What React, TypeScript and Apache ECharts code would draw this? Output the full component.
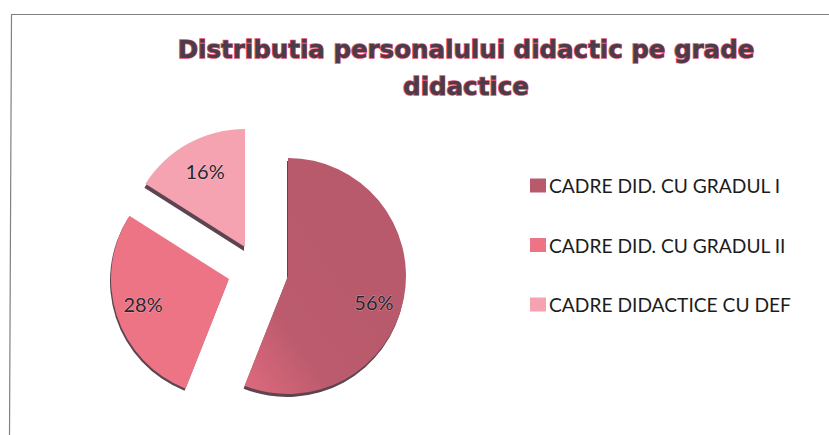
import React, { useEffect, useRef } from "react";
import * as echarts from "echarts";

const titleText = "Distributia personalului didactic pe grade\ndidactice";
const categories = ["CADRE DID. CU GRADUL I", "CADRE DID. CU GRADUL II", "CADRE DIDACTICE CU DEF"];
const values = [56, 28, 16];
const colors = ["#b85a6c", "#ec7484", "#f5a3b1"];
const centers = [[288, 276], [229, 279], [245, 247]];
const rimOffsets = [[-1, 3], [-1, 2], [-1, 4]];
const labelShifts = [[25, 14], [-27, 6], [-10, -22]];

export default function App() {
  const ref = useRef<HTMLDivElement>(null);
  useEffect(() => {
    const chart = echarts.init(ref.current!, undefined, { renderer: "svg" });
    const fill = (j: number) =>
      j === 0
        ? new echarts.graphic.LinearGradient(0.8, 0.2, 0, 1, [
            { offset: 0, color: "#b85a6c" },
            { offset: 0.65, color: "#bb5b6d" },
            { offset: 1, color: "#e06a7e" },
          ])
        : colors[j];
    const slices = (i: number, rim: boolean) => ({
      type: "pie" as const,
      silent: true,
      center: rim ? [centers[i][0] + rimOffsets[i][0], centers[i][1] + rimOffsets[i][1]] : centers[i],
      radius: [0, 118],
      startAngle: 90,
      clockwise: true,
      z: rim ? 1 : 2,
      labelLine: { show: false },
      labelLayout: { dx: labelShifts[i][0], dy: labelShifts[i][1] },
      data: categories.map((name, j) => ({
        name,
        value: values[j],
        itemStyle: {
          color: j === i ? (rim ? "#5c4450" : fill(j)) : "rgba(0,0,0,0)",
          borderWidth: 0,
        },
        label: {
          show: !rim && j === i,
          position: "inside" as const,
          formatter: "{d}%",
          fontFamily: "Lato, 'Open Sans', sans-serif",
          fontSize: 20,
          color: "#2a2430",
          textBorderColor: "rgba(255,255,255,0.35)",
          textBorderWidth: 1,
        },
      })),
    });
    chart.setOption({
      animation: false,
      backgroundColor: "#ffffff",
      title: {
        text: titleText,
        left: 461,
        top: 26,
        textAlign: "center",
        textStyle: {
          fontFamily: "'DejaVu Sans', sans-serif",
          fontWeight: "bold",
          fontSize: 24.5,
          lineHeight: 37,
          color: "#4a3c48",
          textBorderColor: "#e0506c",
          textBorderWidth: 1.5,
        },
      },
      legend: {
        orient: "vertical",
        left: 525,
        top: 171,
        itemGap: 40.5,
        itemWidth: 16,
        itemHeight: 14,
        icon: "rect",
        selectedMode: false,
        textStyle: {
          fontFamily: "Lato, 'Open Sans', sans-serif",
          fontSize: 19.2,
          color: "#1c1c1c",
          padding: [0, 0, 0, -2],
        },
        data: categories.map((name, j) => ({ name, itemStyle: { color: colors[j] } })),
      },
      graphic: [
        {
          type: "polyline",
          silent: true,
          shape: { points: [[9.5, 435], [11.5, 14.5], [829, 14.5]] },
          style: { fill: "none", stroke: "#808080", lineWidth: 1.2 },
        },
      ],
      series: [0, 1, 2].flatMap((i) => [slices(i, true), slices(i, false)]),
    });
    return () => chart.dispose();
  }, []);
  return <div ref={ref} style={{ position: "absolute", left: 0, top: 0, width: 829, height: 435 }} />;
}
